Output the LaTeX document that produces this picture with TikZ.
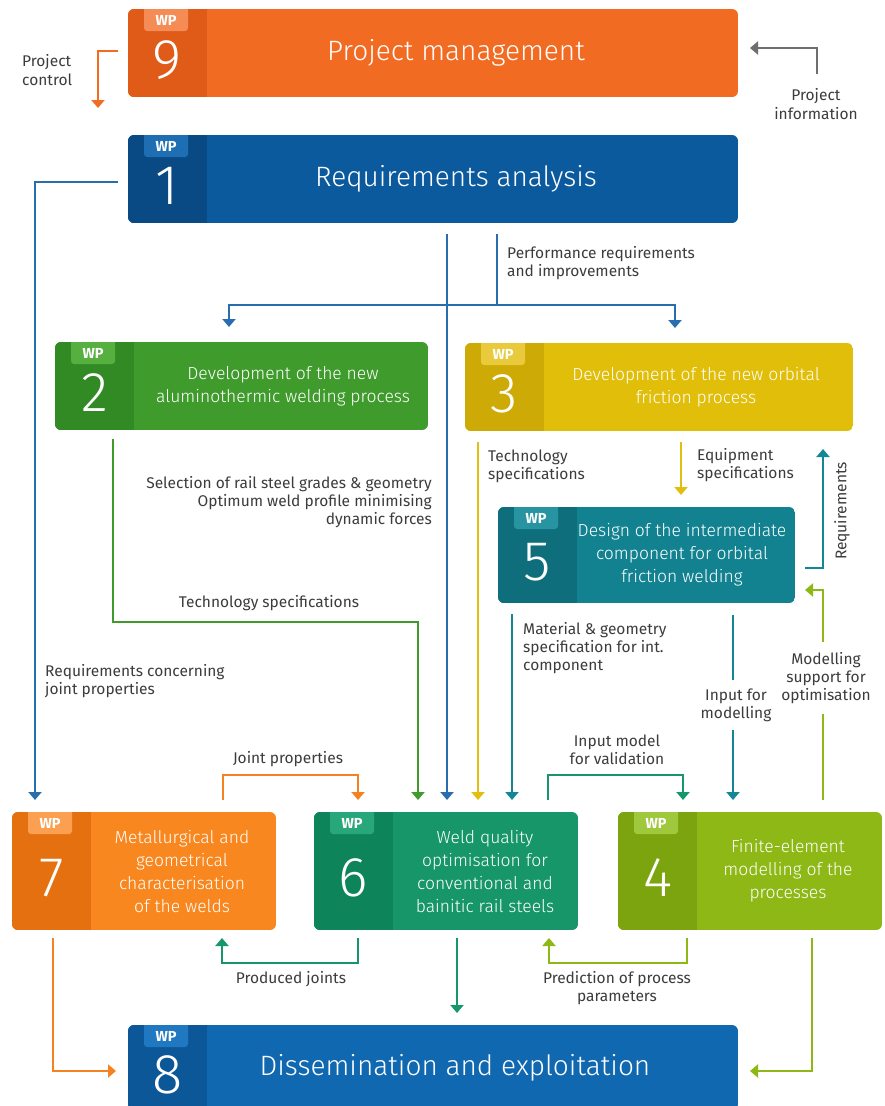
\documentclass[tikz,border=0pt]{standalone}
\usepackage{fontspec}
\setmainfont{Fira Sans}
\newfontfamily\lightfont{Fira Sans Light}
\usetikzlibrary{arrows.meta}

\definecolor{c9main}{RGB}{242,107,35}\definecolor{c9dark}{RGB}{224,90,24}\definecolor{c9badge}{RGB}{246,140,85}
\definecolor{c1main}{RGB}{12,90,158}\definecolor{c1dark}{RGB}{10,74,132}\definecolor{c1badge}{RGB}{30,110,180}
\definecolor{c2main}{RGB}{64,155,45}\definecolor{c2dark}{RGB}{50,138,36}\definecolor{c2badge}{RGB}{85,176,64}
\definecolor{c3main}{RGB}{225,190,10}\definecolor{c3dark}{RGB}{206,170,6}\definecolor{c3badge}{RGB}{232,202,60}
\definecolor{c5main}{RGB}{18,130,145}\definecolor{c5dark}{RGB}{14,110,124}\definecolor{c5badge}{RGB}{40,148,162}
\definecolor{c7main}{RGB}{247,135,30}\definecolor{c7dark}{RGB}{228,112,15}\definecolor{c7badge}{RGB}{250,160,80}
\definecolor{c6main}{RGB}{22,150,105}\definecolor{c6dark}{RGB}{14,132,90}\definecolor{c6badge}{RGB}{40,168,122}
\definecolor{c4main}{RGB}{141,184,22}\definecolor{c4dark}{RGB}{123,164,14}\definecolor{c4badge}{RGB}{160,200,60}
\definecolor{c8main}{RGB}{16,104,176}\definecolor{c8dark}{RGB}{12,87,152}\definecolor{c8badge}{RGB}{32,120,192}
\definecolor{c1line}{RGB}{40,110,175}
\definecolor{c2line}{RGB}{64,155,45}
\definecolor{c3line}{RGB}{226,190,16}
\definecolor{c5line}{RGB}{20,135,150}
\definecolor{c6line}{RGB}{22,150,105}
\definecolor{c7line}{RGB}{245,130,32}
\definecolor{c4line}{RGB}{141,184,22}
\definecolor{c9line}{RGB}{242,107,35}
\definecolor{grayline}{RGB}{110,110,110}
\definecolor{lblgray}{RGB}{60,60,60}

\newcommand\wpTitle{\lightfont\fontsize{17.5}{23}\selectfont}
\newcommand\wpBig{\lightfont\fontsize{28}{32}\selectfont}

\newcommand\wpbox[9]{%
  \node[inner sep=0pt, outer sep=0pt, anchor=north west,
        minimum width={#4pt-#2pt}, minimum height={#5pt-#3pt}] (#1) at (#2,#3) {};
  \begin{scope}
    \clip[rounded corners=6pt] (#1.north west) rectangle (#1.south east);
    \fill[#6main] (#1.north west) rectangle (#1.south east);
    \fill[#6dark] (#1.north west) rectangle ([xshift=79pt]#1.south west);
    \fill[#6badge, rounded corners=3pt] ([xshift=16pt,yshift=5pt]#1.north west) rectangle ([xshift=60pt,yshift=-22pt]#1.north west);
  \end{scope}
  \node[wptext] (#1wp) at ([xshift=38pt,yshift=-11pt]#1.north west) {WP};
  \node[numtext] (#1num) at ([xshift=39.5pt,yshift=-7pt]#1.west) {#7};
  \node[titletext] (#1title) at (#1.center -| #9,0) {#8};
}

\begin{document}
\begin{tikzpicture}[x=1pt,y=-1pt,
  ln/.style={line width=2.5pt},
  ar/.style={line width=2.5pt,-{Triangle[width=13pt,length=8pt]}},
  wptext/.style={font=\bfseries\fontsize{14.5}{15}\selectfont, text=white, inner sep=0pt},
  numtext/.style={font=\lightfont\fontsize{56}{56}\selectfont, text=white, inner sep=0pt},
  titletext/.style={font=\wpTitle, text=white, align=center, inner sep=0pt},
  lbl/.style={font=\fontsize{15.5}{18.3}\selectfont, text=lblgray, inner sep=0pt, align=left},
  lblc/.style={lbl, align=center}
]
\useasboundingbox (0,0) rectangle (885,1106);
\fill[white] (0,0) rectangle (885,1106);

\wpbox{wp9}{128}{9}{738}{97}{c9}{9}{\wpBig Project management}{456}
\wpbox{wp1}{128}{135}{738}{223}{c1}{1}{\wpBig Requirements analysis}{456}
\wpbox{wp2}{55}{342}{428}{430}{c2}{2}{Development of the new\\aluminothermic welding process}{283}
\wpbox{wp3}{465}{343}{853}{431}{c3}{3}{Development of the new orbital\\friction process}{696}
\wpbox{wp5}{498}{507}{795}{603}{c5}{5}{Design of the intermediate\\component for orbital\\friction welding}{682}
\wpbox{wp7}{12}{812}{276}{930}{c7}{7}{Metallurgical and\\geometrical\\characterisation\\of the welds}{182}
\wpbox{wp6}{314}{812}{578}{930}{c6}{6}{Weld quality\\optimisation for\\conventional and\\bainitic rail steels}{485}
\wpbox{wp4}{618}{812}{882}{930}{c4}{4}{Finite-element\\modelling of the\\processes}{788}
\wpbox{wp8}{128}{1025}{738}{1110}{c8}{8}{\wpBig Dissemination and exploitation}{455}

% labels
\node[lbl, anchor=west] (pc) at (22,70) {Project\\control};
\node[lblc] (pi) at (816,104) {Project\\information};
\node[lbl, anchor=west] (perf) at (507,263) {Performance requirements\\and improvements};
\node[lbl, align=right, anchor=east] (sel) at (432,502) {Selection of rail steel grades \& geometry\\Optimum weld profile minimising\\dynamic forces};
\node[lblc] (tech2) at (269,603) {Technology specifications};
\node[lbl, anchor=west] (tech3) at (488,466) {Technology\\specifications};
\node[lbl, anchor=west] (equip) at (697,465) {Equipment\\specifications};
\node[lblc, rotate=90] (req) at (842,511) {Requirements};
\node[lbl, anchor=west] (mat) at (523,648) {Material \& geometry\\specification for int.\\component};
\node[lblc, inner ysep=8pt] (inmod) at (736,705) {Input for\\modelling};
\node[lblc, inner ysep=10pt] (msup) at (826,678) {Modelling\\support for\\optimisation};
\node[lbl, anchor=west] (reqj) at (45,681) {Requirements concerning\\joint properties};
\node[lblc] (jp) at (288,759) {Joint properties};
\node[lblc] (imv) at (617,750) {Input model\\for validation};
\node[lblc] (prod) at (291,979) {Produced joints};
\node[lblc] (pred) at (617,988) {Prediction of process\\parameters};

\coordinate (pcend) at (98,108);
\coordinate (pistart) at (817,74);

% connectors
\draw[ar,c9line] ([xshift=-10pt,yshift=2pt]wp9.west) -| (pcend);
\draw[ar,grayline] (pistart) |- ([xshift=12pt,yshift=5pt]wp9.east);

\draw[ar,c1line,shorten >=12pt] ([xshift=-10pt,yshift=-3pt]wp1.west) -| (wp7.north -| 35,0);
\draw[ar,c1line,shorten <=11pt,shorten >=12pt] (wp1.south -| 447,0) -- (wp6.north -| 447,0);
\draw[ln,c1line,shorten <=11pt] (wp1.south -| 497,0) -- (497,305) coordinate (j1);
\draw[ar,c1line,shorten >=15pt] (j1) -| (wp2.north -| 229,0);
\draw[ar,c1line,shorten >=15pt] (j1) -| (wp3.north -| 675,0);

\draw[ar,c2line,shorten <=9pt,shorten >=12pt] (wp2.south -| 113,0) |- (418,622) -- (wp6.north -| 418,0);

\draw[ar,c3line,shorten <=11pt,shorten >=12pt] (wp3.south -| 478,0) -- (wp6.north -| 478,0);
\draw[ar,c3line,shorten <=11pt,shorten >=12pt] (wp3.south -| 681,0) -- (wp5.north -| 681,0);

\draw[ar,c5line,shorten <=10pt,shorten >=18pt] (wp5.east |- 0,568) -| (wp3.south -| 823,0);
\draw[ln,c4line,shorten <=12pt] (wp4.north -| 823,0) -- (msup.south -| 823,0);
\draw[ar,c4line,shorten >=10pt] (msup.north -| 823,0) |- (wp5.east |- 0,590);

\draw[ar,c5line,shorten <=11pt,shorten >=12pt] (wp5.south -| 512,0) -- (wp6.north -| 512,0);
\draw[ln,c5line,shorten <=12pt] (wp5.south -| 733,0) -- (inmod.north -| 733,0);
\draw[ar,c5line,shorten >=12pt] (inmod.south -| 733,0) -- (wp4.north -| 733,0);

\draw[ar,c6line,shorten <=12pt,shorten >=12pt] (wp6.north -| 548,0) |- (683,775) -- (wp4.north -| 683,0);
\draw[ar,c7line,shorten <=12pt,shorten >=12pt] (wp7.north -| 223,0) |- (358,775) -- (wp6.north -| 358,0);

\draw[ar,c6line,shorten <=8pt,shorten >=8pt] (wp6.south -| 358,0) |- (222,963) -- (wp7.south -| 222,0);
\draw[ar,c4line,shorten <=8pt,shorten >=8pt] (wp4.south -| 687,0) |- (549,963) -- (wp6.south -| 549,0);
\draw[ar,c6line,shorten <=8pt,shorten >=12pt] (wp6.south -| 457,0) -- (wp8.north -| 457,0);
\draw[ar,c7line,shorten <=8pt,shorten >=12pt] (wp7.south -| 53,0) |- (wp8.west |- 0,1071);
\draw[ar,c4line,shorten <=8pt,shorten >=12pt] (wp4.south -| 812,0) |- (wp8.east |- 0,1071);
\end{tikzpicture}
\end{document}
